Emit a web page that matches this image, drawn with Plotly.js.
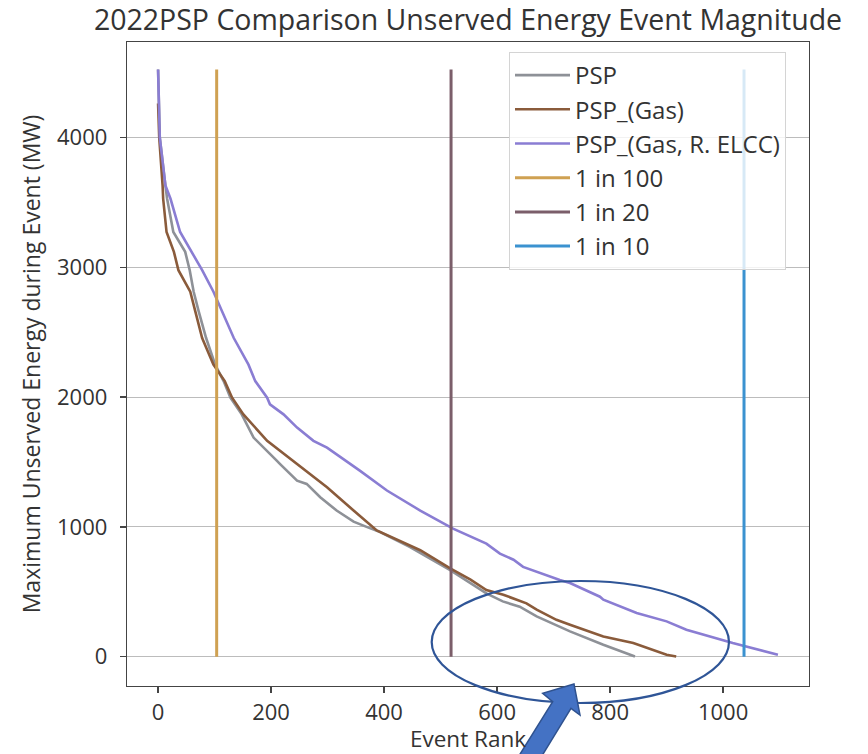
<!DOCTYPE html>
<html>
<head>
<meta charset="utf-8">
<script src="https://cdn.plot.ly/plotly-3.0.1.min.js"></script>
<style>html,body{margin:0;padding:0;background:#fff;}#chart{width:868px;height:754px;}</style>
</head>
<body>
<div id="chart"></div>
<script>
// ---- data ----
const pspRank = [0, 3, 13, 16, 27, 48, 56, 63, 72, 85, 101, 116, 128, 140, 148, 169, 175, 210, 216, 246, 263, 287, 316, 346, 369, 393, 446, 517, 581, 610, 640, 670, 729, 788, 844];
const pspMW   = [4524, 4000, 3630, 3528, 3272, 3119, 2978, 2812, 2659, 2455, 2250, 2123, 1995, 1918, 1867, 1688, 1663, 1510, 1484, 1356, 1331, 1228, 1126, 1040, 1000, 960, 845, 667, 488, 426, 385, 310, 195, 92, 2];

const gasRank = [0, 2, 8, 9, 15, 28, 36, 57, 66, 78, 98, 118, 131, 151, 193, 246, 299, 346, 380, 387, 464, 517, 553, 581, 611, 652, 670, 705, 729, 770, 788, 841, 900, 917];
const gasMW   = [4262, 4000, 3630, 3528, 3272, 3119, 2978, 2812, 2659, 2455, 2250, 2123, 1995, 1867, 1663, 1484, 1305, 1126, 1000, 973, 820, 680, 593, 513, 477, 411, 362, 284, 246, 182, 156, 105, 15, 2];

const elccRank = [0, 3, 13, 22, 39, 60, 78, 98, 113, 134, 160, 172, 193, 198, 222, 246, 275, 299, 357, 405, 464, 522, 581, 605, 629, 646, 711, 729, 782, 788, 847, 858, 900, 935, 1017, 1097];
const elccMW   = [4524, 4000, 3630, 3528, 3272, 3119, 2978, 2812, 2659, 2455, 2250, 2123, 1995, 1944, 1867, 1765, 1663, 1611, 1433, 1280, 1126, 986, 871, 794, 747, 692, 590, 567, 462, 439, 336, 322, 272, 207, 105, 15];

const seriesNames  = ['PSP', 'PSP_(Gas)', 'PSP_(Gas, R. ELCC)'];
const returnLabels = ['1 in 100', '1 in 20', '1 in 10'];
const returnRank   = [103.7, 518.5, 1037];

const xTicks = [0, 200, 400, 600, 800, 1000];
const yTicks = [0, 1000, 2000, 3000, 4000];

// ---- styling ----
const seriesColors = ['#8e9197', '#8a5b3b', '#8a7dd3'];
const returnColors = ['#cfa152', '#7b5e6a', '#3b92d0'];
const FONT = 'Open Sans, Noto Sans, DejaVu Sans, sans-serif';

const yTop = Math.max(...pspMW, ...gasMW, ...elccMW);

const traces = [];
[[pspRank, pspMW], [gasRank, gasMW], [elccRank, elccMW]].forEach((s, i) => {
  traces.push({
    type: 'scatter', mode: 'lines', x: s[0], y: s[1], name: seriesNames[i],
    line: {color: seriesColors[i], width: 2.6}
  });
});
returnRank.forEach((r, i) => {
  traces.push({
    type: 'scatter', mode: 'lines', x: [r, r], y: [0, yTop], name: returnLabels[i],
    line: {color: returnColors[i], width: 3}
  });
});

// pixel helpers for the hand-drawn annotation shapes
const ML = 127, MT = 42, PW = 682, PH = 644;
const px = x => (x - ML) / PW;
const py = y => (MT + PH - y) / PH;

const arrowPts = [[574,684],[580,715],[571,708.3],[542.5,755],[519.5,755],[552.7,701.7],[542.7,693.3]];
const arrowPath = 'M' + arrowPts.map(p => px(p[0]).toFixed(4) + ',' + py(p[1]).toFixed(4)).join(' L') + ' Z';

const layout = {
  width: 868, height: 754,
  margin: {l: ML, r: 868 - ML - PW, t: MT, b: 754 - MT - PH},
  paper_bgcolor: '#fff', plot_bgcolor: '#fff',
  font: {family: FONT, color: '#333', size: 22},
  title: {
    text: '2022PSP Comparison Unserved Energy Event Magnitude',
    font: {family: FONT, size: 28.5, color: '#333'},
    x: 0.5, xref: 'paper', y: 0.974, yref: 'container', yanchor: 'middle'
  },
  xaxis: {
    range: [-55, 1152], tickvals: xTicks, ticktext: xTicks.map(String),
    showgrid: false, zeroline: false,
    showline: true, mirror: true, linecolor: '#444', linewidth: 1.3,
    ticks: 'outside', ticklen: 6, tickcolor: '#444', tickwidth: 1.3,
    tickfont: {size: 22, color: '#333'},
    title: {text: 'Event Rank', font: {size: 22.5, color: '#333'}, standoff: 13}
  },
  yaxis: {
    range: [-226, 4736], tickvals: yTicks, ticktext: yTicks.map(String),
    showgrid: true, gridcolor: '#bcbcbc', gridwidth: 1, zeroline: false,
    showline: true, mirror: true, linecolor: '#444', linewidth: 1.3,
    ticks: 'outside', ticklen: 6, tickcolor: '#444', tickwidth: 1.3,
    ticklabelstandoff: 8,
    tickfont: {size: 22, color: '#333'},
    title: {text: 'Maximum Unserved Energy during Event (MW)', font: {size: 23, color: '#333'}, standoff: 10}
  },
  legend: {
    x: px(509), y: py(52), xanchor: 'left', yanchor: 'top',
    bgcolor: 'rgba(255,255,255,0.8)', bordercolor: '#d4d4d4', borderwidth: 1,
    font: {size: 24, color: '#333'}, itemwidth: 55
  },
  showlegend: true,
  shapes: [
    {type: 'circle', xref: 'paper', yref: 'paper', layer: 'above',
     x0: px(431.7), x1: px(729), y0: py(703), y1: py(581),
     line: {color: '#2f5597', width: 2.2}, fillcolor: 'rgba(0,0,0,0)'},
    {type: 'path', xref: 'paper', yref: 'paper', layer: 'above', path: arrowPath,
     fillcolor: '#4472c4', line: {color: '#2f528f', width: 1.5}}
  ]
};

Plotly.newPlot('chart', traces, layout, {displayModeBar: false, staticPlot: true}).then(gd => {
  // draw the arrow overlay above the axis title, as in the reference
  const svg = gd.querySelector('svg.main-svg');
  const above = svg && svg.querySelector('g.layer-above');
  if (svg && above) svg.appendChild(above);
});
</script>
</body>
</html>
